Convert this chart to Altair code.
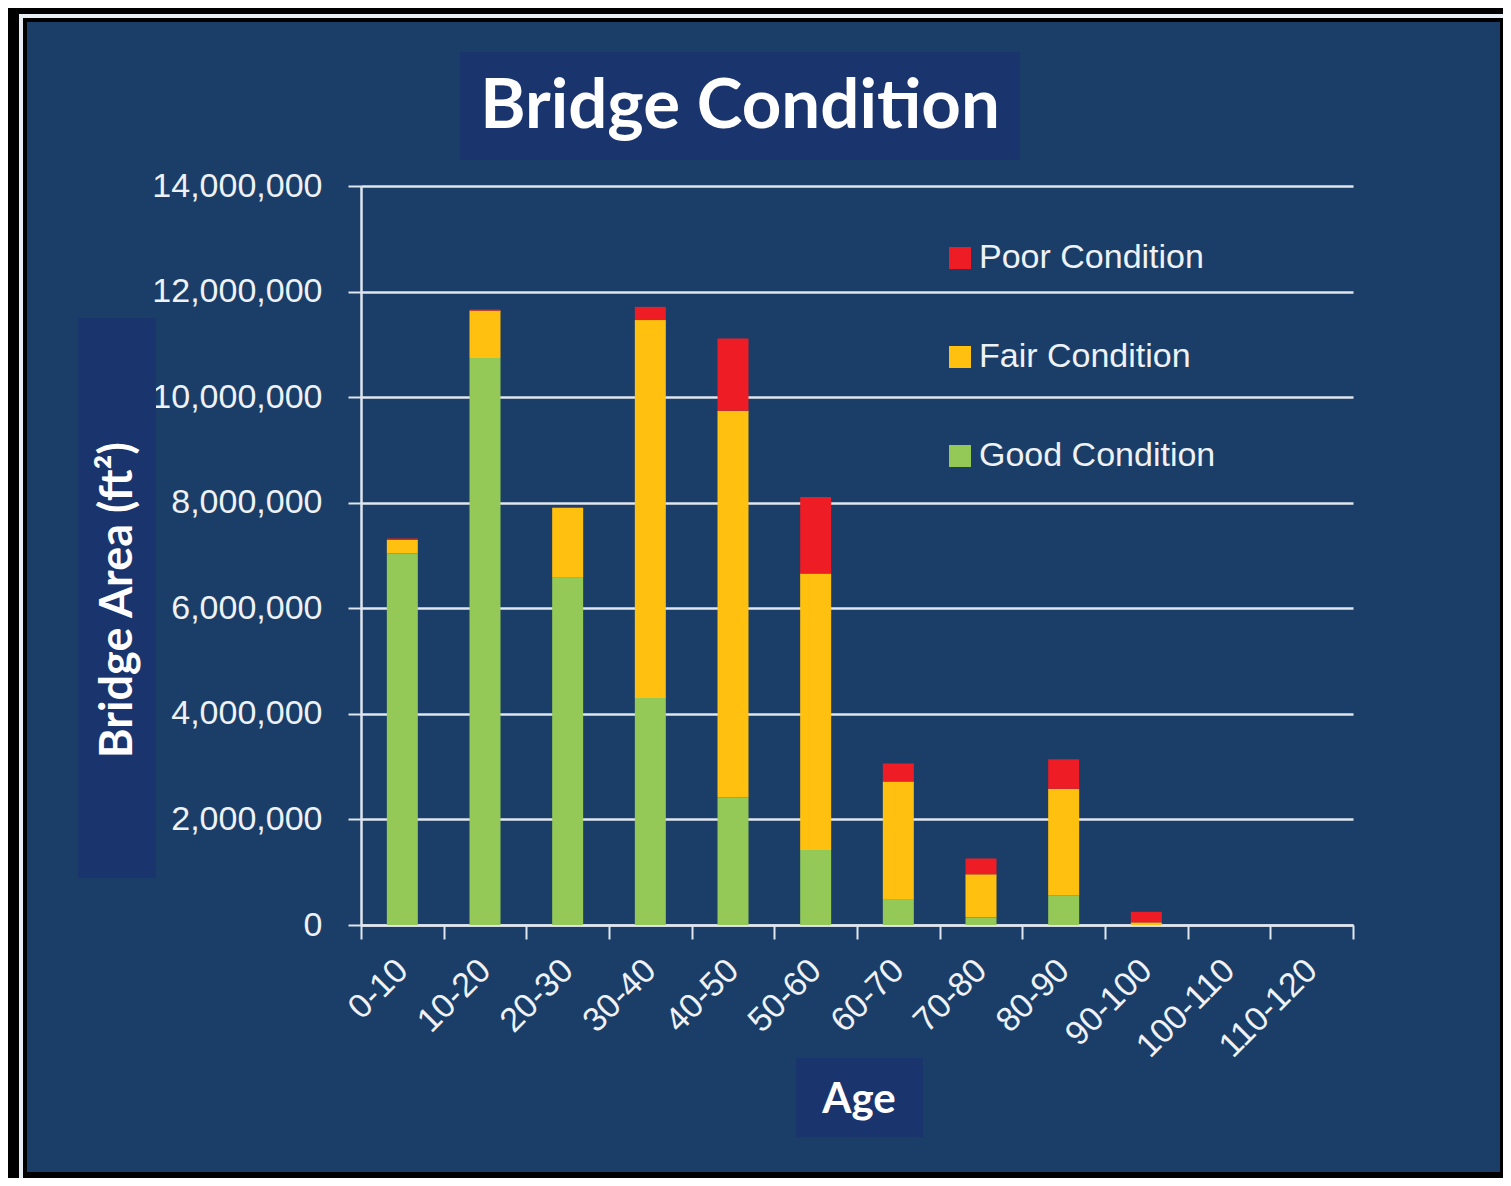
import altair as alt
import pandas as pd

# ---- data (bridge deck area, ft^2, by age group) ----
ages = ["0-10", "10-20", "20-30", "30-40", "40-50", "50-60",
        "60-70", "70-80", "80-90", "90-100", "100-110", "110-120"]
good = [7040000, 10740000, 6580000, 4300000, 2420000, 1420000,
        480000, 140000, 560000, 0, 0, 0]
fair = [260000, 900000, 1320000, 7160000, 7320000, 5240000,
        2240000, 820000, 2020000, 50000, 0, 0]
poor = [20000, 20000, 20000, 250000, 1370000, 1450000,
        340000, 300000, 560000, 200000, 0, 0]

conditions = ["Poor Condition", "Fair Condition", "Good Condition"]
cond_colors = ["#ee1c24", "#ffc010", "#94c857"]
y_ticks = [0, 2000000, 4000000, 6000000, 8000000, 10000000, 12000000, 14000000]

title_text = "Bridge Condition"
ylabel_text = "Bridge Area (ft²)"
xlabel_text = "Age"

# ---- build long table ----
rows = []
for i, a in enumerate(ages):
    rows.append({"age": a, "cond": "Good Condition", "val": good[i], "ord": 0})
    rows.append({"age": a, "cond": "Fair Condition", "val": fair[i], "ord": 1})
    rows.append({"age": a, "cond": "Poor Condition", "val": poor[i], "ord": 2})
df = pd.DataFrame(rows)

PANEL = "#1b3e68"
BOX = "#1a346e"
TXT = "#eef2f7"
GRID = "#dfe6ee"

one = pd.DataFrame({"k": [0]})

bars = alt.Chart(df).mark_bar(stroke=None, width=alt.RelativeBandSize(0.375)).encode(
    x=alt.X("age:N", sort=ages,
            scale=alt.Scale(paddingInner=0, paddingOuter=0),
            axis=alt.Axis(title=None, labelAngle=-45, labelAlign="right",
                          labelBaseline="middle", labelPadding=26,
                          labelFont="Liberation Sans", labelFontSize=34,
                          labelColor=TXT, tickBand="extent", tickSize=14,
                          tickWidth=2, tickColor=GRID, domainColor=GRID,
                          domainWidth=2.5, grid=False)),
    y=alt.Y("val:Q", stack="zero",
            scale=alt.Scale(domain=[0, 14000000], nice=False),
            axis=alt.Axis(title=None, values=y_ticks, format=",d",
                          labelFont="Liberation Sans", labelFontSize=34,
                          labelColor=TXT, labelPadding=26, tickSize=13,
                          tickWidth=2, tickColor=GRID, domainColor=GRID,
                          domainWidth=2.5, grid=True, gridColor=GRID,
                          gridWidth=2.5)),
    color=alt.Color("cond:N",
                    scale=alt.Scale(domain=conditions, range=cond_colors),
                    legend=alt.Legend(orient="none", legendX=582, legendY=55,
                                      padding=0, title=None,
                                      symbolType="square",
                                      symbolSize=484, symbolStrokeWidth=0,
                                      labelFont="Liberation Sans",
                                      labelFontSize=34, labelColor=TXT,
                                      labelLimit=0, rowPadding=65,
                                      labelOffset=2)),
    order=alt.Order("ord:Q", sort="ascending"),
)

# decorative boxes behind the titles
title_box = alt.Chart(one).mark_rect(color=BOX).encode(
    x=alt.value(99), x2=alt.value(659), y=alt.value(-134), y2=alt.value(-26))
ylab_box = alt.Chart(one).mark_rect(color=BOX).encode(
    x=alt.value(-283), x2=alt.value(-205), y=alt.value(132), y2=alt.value(692))
xlab_box = alt.Chart(one).mark_rect(color=BOX).encode(
    x=alt.value(435), x2=alt.value(562), y=alt.value(872), y2=alt.value(951))

title = alt.Chart(one).mark_text(font="Lato", fontWeight="bold", fontSize=69,
                                 color="white", align="center",
                                 baseline="middle").encode(
    x=alt.value(379), y=alt.value(-79), text=alt.value(title_text))
ylab = alt.Chart(one).mark_text(font="Lato", fontWeight="bold", fontSize=45,
                                color="white", align="center",
                                baseline="middle", angle=270).encode(
    x=alt.value(-243), y=alt.value(414), text=alt.value(ylabel_text))
xlab = alt.Chart(one).mark_text(font="Lato", fontWeight="bold", fontSize=42,
                                color="white", align="center",
                                baseline="middle").encode(
    x=alt.value(498), y=alt.value(914), text=alt.value(xlabel_text))

# outer picture frame
frame_black = alt.Chart(one).mark_rect(fillOpacity=0, stroke="black",
                                       strokeWidth=28).encode(
    x=alt.value(-348), x2=alt.value(1153), y=alt.value(-178), y2=alt.value(1000))
frame_light = alt.Chart(one).mark_rect(fillOpacity=0, stroke="#e8eef5",
                                       strokeWidth=4).encode(
    x=alt.value(-340), x2=alt.value(1145), y=alt.value(-170), y2=alt.value(994))

chart = alt.layer(
    title_box, ylab_box, xlab_box, bars, title, ylab, xlab,
    frame_black, frame_light
).properties(
    width=992, height=739,
    autosize=alt.AutoSizeParams(type="none"),
    padding={"left": 353, "top": 178, "right": 150, "bottom": 253},
    background=PANEL,
).configure_view(stroke=None)

chart.save("out.html", embed_options={"renderer": "svg", "actions": False})
